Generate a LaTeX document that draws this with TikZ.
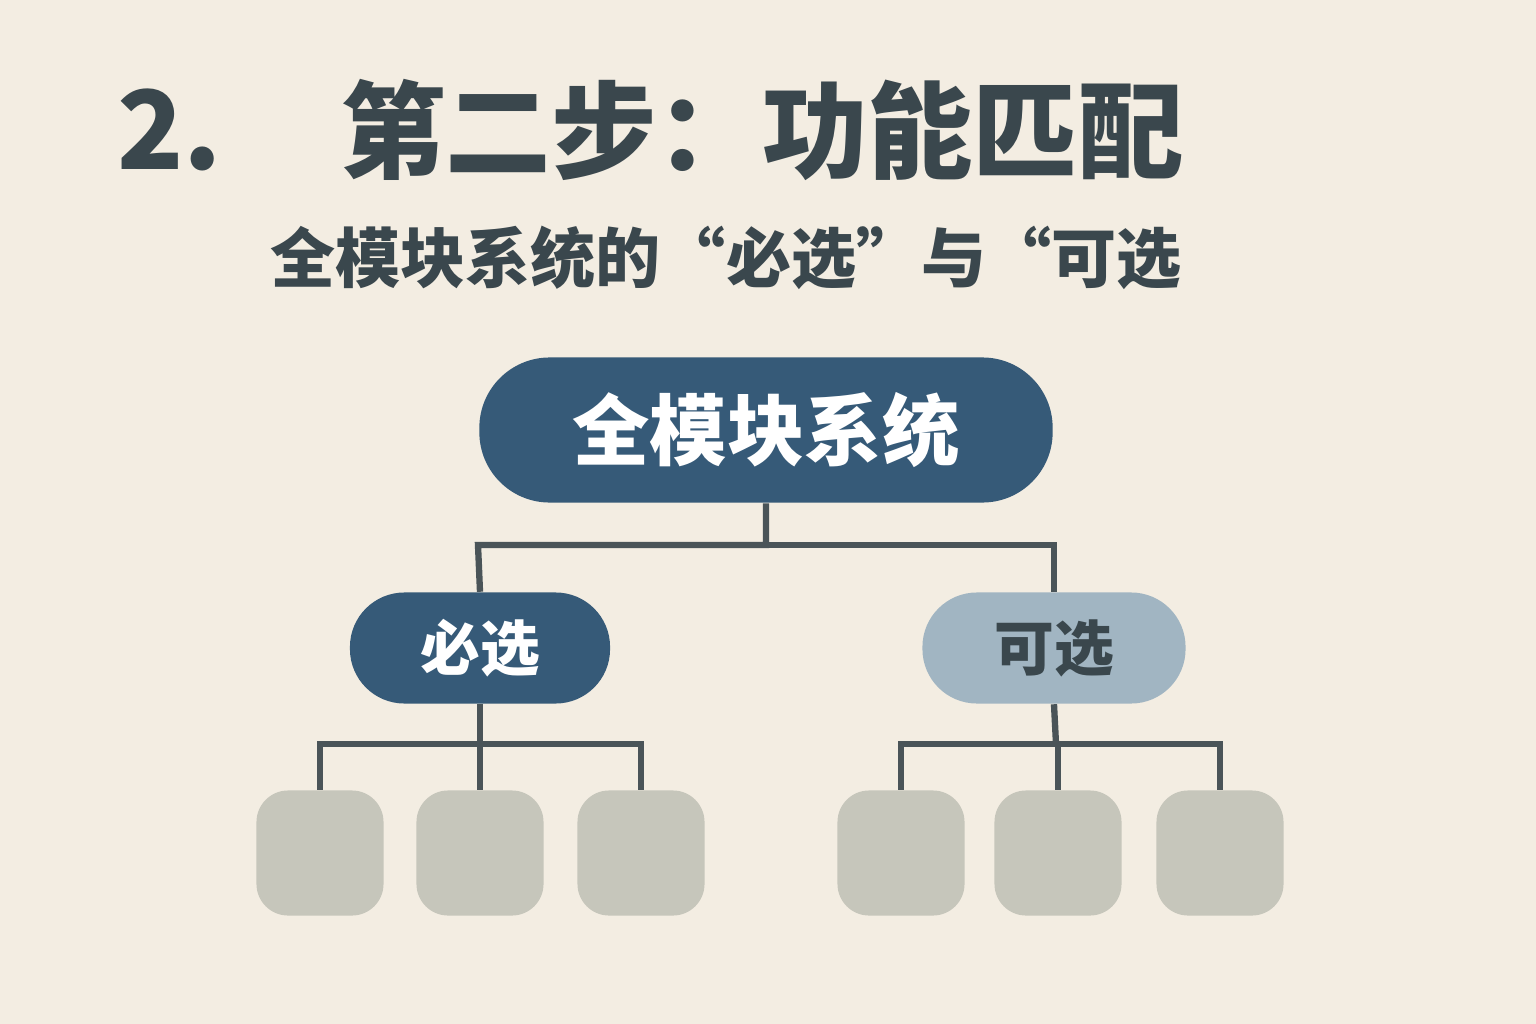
\documentclass[tikz,border=0pt]{standalone}
\usepackage{fontspec}
\setmainfont{Noto Sans CJK SC}
\usepackage{xcolor}
\usetikzlibrary{positioning}
\definecolor{bgcol}{HTML}{F3EDE2}
\definecolor{inkcol}{HTML}{3A474D}
\definecolor{darkblue}{HTML}{365A78}
\definecolor{lightblue}{HTML}{A1B5C2}
\definecolor{boxgray}{HTML}{C6C6BB}
\definecolor{linecol}{HTML}{4A5458}

\begin{document}
\begin{tikzpicture}[x=0.01cm, y=-0.01cm]
\tikzset{pill/.style={text=white, font=\bfseries},
    leaf/.style={fill=boxgray, rounded corners=9pt, minimum width=1.27cm, minimum height=1.25cm},
    link/.style={draw=linecol, line width=1.8pt}}
\fill[bgcol] (0,0) rectangle (1536,1024);

% Titles
\node[text=inkcol, font=\bfseries\fontsize{31}{36}\selectfont, anchor=west] (num) at (105,130) {2.};
\node[text=inkcol, font=\bfseries\fontsize{30}{36}\selectfont] (title) at (762,130) {第二步：功能匹配};
\node[text=inkcol, font=\bfseries\fontsize{18.5}{22}\selectfont] (subtitle) at (726,258) {全模块系统的“必选”与“可选};

% Nodes
\node[pill, fill=darkblue, rounded corners=20pt, minimum width=5.73cm, minimum height=1.45cm, font=\bfseries\fontsize{22}{26}\selectfont] (system) at (766,430) {全模块系统};
\node[pill, fill=darkblue, rounded corners=15.5pt, minimum width=2.6cm, minimum height=1.11cm, font=\bfseries\fontsize{17}{20}\selectfont] (required) at (480,648) {必选};
\node[pill, fill=lightblue, rounded corners=15.5pt, text=inkcol, minimum width=2.63cm, minimum height=1.11cm, font=\bfseries\fontsize{17}{20}\selectfont] (optional) at (1054,648) {可选};
\foreach \x/\n in {320/r1, 480/r2, 641/r3, 901/o1, 1058/o2, 1220/o3}
  \node[leaf] (\n) at (\x,853) {};

% Connectors
\draw[link] (system.south) -- (766,545) -| (478,545) -- (required.north);
\draw[link] (766,545) -| (optional.north);
\draw[link] (required.south) -- (480,744);
\draw[link] (r1.north) |- (480,744) -| (r3.north);
\draw[link] (r2.north) -- (480,744);
\draw[link] (optional.south) -- (1056,744);
\draw[link] (o1.north) |- (1056,744) -| (o3.north);
\draw[link] (o2.north) -- (o2.north |- 0,744);
\end{tikzpicture}
\end{document}
